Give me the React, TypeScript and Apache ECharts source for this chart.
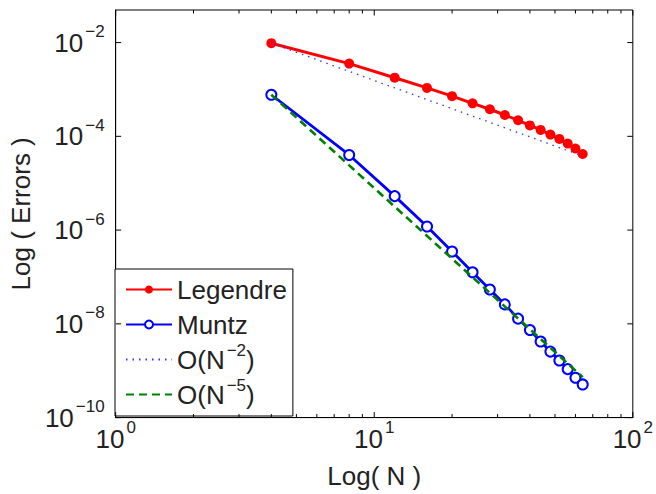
import React, { useEffect, useRef } from "react";
import * as echarts from "echarts";

// ---- data ----
const nValues = [4, 8, 12, 16, 20, 24, 28, 32, 36, 40, 44, 48, 52, 56, 60, 64];
const legendreErr = [
  9.7e-3, 3.56e-3, 1.78e-3, 1.08e-3, 7.2e-4, 5.06e-4, 3.78e-4, 2.85e-4,
  2.2e-4, 1.71e-4, 1.37e-4, 1.09e-4, 8.8e-5, 7.0e-5, 5.5e-5, 4.2e-5,
];
const muntzErr = [
  7.7e-4, 4.0e-5, 5.3e-6, 1.19e-6, 3.5e-7, 1.26e-7, 5.4e-8, 2.6e-8,
  1.29e-8, 7.4e-9, 4.2e-9, 2.56e-9, 1.65e-9, 1.08e-9, 7.1e-10, 5.1e-10,
];
const refN = [4, 64];
const orderTwo = [9.7e-3, 3.8e-5];
const orderFive = [7.7e-4, 7.3e-10];

const xMajorTicks = [1, 10, 100];
const xMinorTicks = [2, 3, 4, 5, 6, 7, 8, 9, 20, 30, 40, 50, 60, 70, 80, 90];
const yMajorTicks = [1e-10, 1e-8, 1e-6, 1e-4, 1e-2];

const X_MIN = 1;
const X_MAX = 100;
const Y_MIN = 1e-10;
const Y_MAX = 0.0495;

const FONT = "Liberation Sans, Arial, Helvetica, sans-serif";
const TEXT = "#222";

const supStyle = {
  fontSize: 17,
  lineHeight: 17,
  fontFamily: FONT,
  color: TEXT,
  padding: [0, 0, 22, 2],
};

function powLabel(v: number, evenOnly: boolean): string {
  const e = Math.log10(v);
  const n = Math.round(e);
  if (Math.abs(e - n) > 1e-6) return "";
  if (evenOnly && n % 2 !== 0) return "";
  const s = n < 0 ? "\u2212" + -n : String(n);
  return `{b|10}{s|${s}}`;
}

export default function App() {
  const ref = useRef<HTMLDivElement>(null);
  useEffect(() => {
    if (!ref.current) return;
    const chart = echarts.init(ref.current, null, { renderer: "svg" });

    const tickData: number[][] = [
      ...xMajorTicks.map((v) => [v, Y_MIN, 0, 5.5]),
      ...xMinorTicks.map((v) => [v, Y_MIN, 0, 3.5]),
      ...yMajorTicks.map((v) => [X_MIN, v, 1, 5.5]),
    ];

    const option: any = {
      animation: false,
      textStyle: { fontFamily: FONT },
      grid: {
        left: 109,
        right: 18,
        top: 10,
        bottom: 71,
        show: true,
        borderColor: "#000",
        borderWidth: 1,
      },
      xAxis: {
        type: "log",
        logBase: 10,
        min: X_MIN,
        max: X_MAX,
        name: "Log( N )",
        nameLocation: "middle",
        nameGap: 37,
        nameTextStyle: { fontSize: 26, color: TEXT, fontFamily: FONT },
        axisLine: { show: true, lineStyle: { color: "#000", width: 1 } },
        axisTick: { show: false },
        splitLine: { show: false },
        minorTick: { show: false },
        axisLabel: {
          margin: 8,
          formatter: (v: number) => powLabel(v, false),
          rich: {
            b: { fontSize: 26, lineHeight: 26, fontFamily: FONT, color: TEXT },
            s: supStyle,
          },
        },
      },
      yAxis: {
        type: "log",
        logBase: 10,
        min: Y_MIN,
        max: Y_MAX,
        name: "Log ( Errors )",
        nameLocation: "middle",
        nameGap: 73,
        nameTextStyle: { fontSize: 26, color: TEXT, fontFamily: FONT },
        axisLine: { show: true, lineStyle: { color: "#000", width: 1 } },
        axisTick: { show: false },
        splitLine: { show: false },
        minorTick: { show: false },
        axisLabel: {
          margin: 11,
          formatter: (v: number) => powLabel(v, true),
          rich: {
            b: { fontSize: 26, lineHeight: 26, fontFamily: FONT, color: TEXT },
            s: supStyle,
          },
        },
      },
      legend: {
        orient: "vertical",
        left: 115,
        top: 269,
        padding: [3, 6, 4, 10],
        itemGap: 0,
        itemWidth: 46,
        itemHeight: 10,
        backgroundColor: "#fff",
        borderColor: "#000",
        borderWidth: 1,
        data: [
          "Legendre",
          "Muntz",
          { name: "O(N^-2)", itemStyle: { opacity: 0 } },
          { name: "O(N^-5)", itemStyle: { opacity: 0 } },
        ],
        formatter: (name: string) => {
          if (name === "O(N^-2)") return "O(N{s|\u22122})";
          if (name === "O(N^-5)") return "O(N{s|\u22125})";
          return name;
        },
        textStyle: {
          fontSize: 26,
          lineHeight: 35,
          color: TEXT,
          fontFamily: FONT,
          rich: {
            s: {
              fontSize: 17,
              lineHeight: 17,
              fontFamily: FONT,
              color: TEXT,
              padding: [0, 0, 18, 2],
            },
          },
        },
      },
      series: [
        {
          name: "Legendre",
          type: "line",
          data: nValues.map((n, i) => [n, legendreErr[i]]),
          symbol: "circle",
          symbolSize: 10,
          lineStyle: { color: "#ff0000", width: 3 },
          itemStyle: { color: "#ff0000" },
          z: 3,
        },
        {
          name: "Muntz",
          type: "line",
          data: nValues.map((n, i) => [n, muntzErr[i]]),
          symbol: "emptyCircle",
          symbolSize: 10,
          lineStyle: { color: "#0000ff", width: 2.8 },
          itemStyle: { color: "#0000ff", borderWidth: 2.8 },
          z: 3,
        },
        {
          name: "O(N^-2)",
          type: "line",
          data: refN.map((n, i) => [n, orderTwo[i]]),
          symbol: "none",
          lineStyle: { color: "#3333ff", width: 1.3, type: [1.5, 5] },
          itemStyle: { color: "#3333ff" },
          z: 4,
        },
        {
          name: "O(N^-5)",
          type: "line",
          data: refN.map((n, i) => [n, orderFive[i]]),
          symbol: "none",
          lineStyle: { color: "#008000", width: 2.6, type: [8, 5] },
          itemStyle: { color: "#008000" },
          z: 4,
        },
        {
          name: "ticks",
          type: "custom",
          silent: true,
          z: 5,
          encode: { x: 0, y: 1 },
          data: tickData,
          renderItem: (params: any, api: any) => {
            const cs = params.coordSys;
            const kind = api.value(2);
            const len = api.value(3);
            const p = api.coord([api.value(0), api.value(1)]);
            const style = { stroke: "#000", lineWidth: 1 };
            if (kind === 0) {
              const x = p[0];
              const yb = cs.y + cs.height;
              return {
                type: "group",
                children: [
                  { type: "line", shape: { x1: x, y1: yb, x2: x, y2: yb - len }, style },
                  { type: "line", shape: { x1: x, y1: cs.y, x2: x, y2: cs.y + len }, style },
                ],
              };
            }
            const y = p[1];
            const xr = cs.x + cs.width;
            return {
              type: "group",
              children: [
                { type: "line", shape: { x1: cs.x, y1: y, x2: cs.x + len, y2: y }, style },
                { type: "line", shape: { x1: xr, y1: y, x2: xr - len, y2: y }, style },
              ],
            };
          },
        },
      ],
    };

    chart.setOption(option);
    return () => chart.dispose();
  }, []);

  return (
    <div
      ref={ref}
      style={{ position: "fixed", left: 0, top: 0, width: 656, height: 494, background: "#fff" }}
    />
  );
}
